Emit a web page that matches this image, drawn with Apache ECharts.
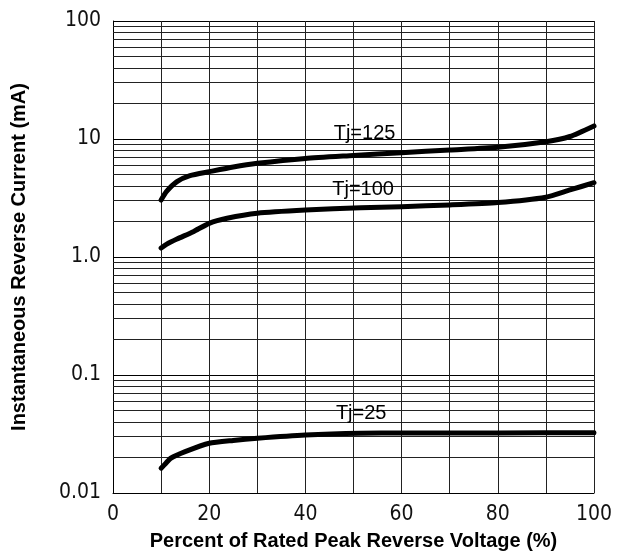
<!DOCTYPE html>
<html>
<head>
<meta charset="utf-8">
<script src="https://cdn.jsdelivr.net/npm/echarts@6/dist/echarts.min.js"></script>
<style>
  html, body { margin: 0; padding: 0; background: #fff; }
  #chart { width: 619px; height: 557px; }
</style>
</head>
<body>
<div id="chart"></div>
<script>
// Reverse leakage current vs. percent of rated peak reverse voltage
const voltage125 = [10, 11.1, 13.3, 16, 20, 25, 30, 40, 50, 60, 70, 80, 90, 95, 100];
const current125 = [3.04, 3.58, 4.35, 4.89, 5.28, 5.79, 6.22, 6.85, 7.25, 7.66, 8.07, 8.51, 9.49, 10.5, 12.9];

const voltage100 = [10, 11.1, 13.3, 16.7, 20, 23.7, 30, 40, 51.5, 60, 70, 80, 90, 95, 100];
const current100 = [1.19, 1.28, 1.42, 1.64, 1.93, 2.13, 2.35, 2.50, 2.62, 2.67, 2.76, 2.89, 3.21, 3.70, 4.26];

const voltage25 = [10, 11, 12, 15, 20, 25, 30, 40, 51.5, 60, 80, 100];
const current25 = [0.0162, 0.0179, 0.0197, 0.0224, 0.0264, 0.0279, 0.0291, 0.031, 0.0321, 0.0322, 0.0323, 0.0324];

const seriesNames = ['Tj=125', 'Tj=100', 'Tj=25'];
// caption anchor for each curve [voltage %, current mA]
const captionAt = [[52.3, 11.2], [52, 3.70], [51.6, 0.0468]];

const yTickLabels = ['0.01', '0.1', '1.0', '10', '100'];
const decades = [0.01, 0.1, 1, 10];
const minorSteps = [2, 3, 4, 5, 6, 7, 8, 9];

const pairs = (xs, ys) => xs.map((x, i) => [x, ys[i]]);

// minor log grid lines at 2..9 of every decade
const minorLines = [];
decades.forEach(d => minorSteps.forEach(m => minorLines.push({ yAxis: +(d * m).toPrecision(3) })));

const tickFont = "'Liberation Sans Narrow', 'Arial Narrow', 'DejaVu Sans Condensed', sans-serif";
const textFont = "'Liberation Sans', Arial, sans-serif";
const gridColor = '#222';

function curve(name, data, caption, extra) {
  return Object.assign({
    name: name,
    type: 'line',
    data: data,
    smooth: 0.2,
    showSymbol: false,
    z: 5,
    lineStyle: { color: '#000', width: 5, cap: 'round', join: 'round' },
    markPoint: {
      symbol: 'circle',
      symbolSize: 0,
      silent: true,
      animation: false,
      data: [{ coord: caption, value: name }],
      label: {
        show: true,
        position: 'inside',
        formatter: name,
        color: '#000',
        fontFamily: textFont,
        fontSize: 20
      }
    }
  }, extra || {});
}

const chart = echarts.init(document.getElementById('chart'), null, { renderer: 'canvas' });

chart.setOption({
  animation: false,
  backgroundColor: '#fff',
  grid: { left: 113, right: 25, top: 21, bottom: 64, containLabel: false },
  xAxis: {
    type: 'value',
    min: 0,
    max: 100,
    interval: 20,
    name: 'Percent of Rated Peak Reverse Voltage (%)',
    nameLocation: 'middle',
    nameGap: 38,
    nameTextStyle: { fontFamily: textFont, fontWeight: 'bold', fontSize: 20, color: '#000' },
    axisLine: { show: true, lineStyle: { color: '#000', width: 1 } },
    axisTick: { show: false },
    axisLabel: { color: '#111', fontFamily: tickFont, fontSize: 21, margin: 11 },
    splitLine: { show: true, lineStyle: { color: gridColor, width: 1 } },
    minorTick: { show: false, splitNumber: 2 },
    minorSplitLine: { show: true, lineStyle: { color: gridColor, width: 1 } }
  },
  yAxis: {
    type: 'log',
    logBase: 10,
    min: 0.01,
    max: 100,
    name: 'Instantaneous Reverse Current (mA)',
    nameLocation: 'middle',
    nameGap: 84,
    nameTextStyle: { fontFamily: textFont, fontWeight: 'bold', fontSize: 20, color: '#000' },
    axisLine: { show: true, lineStyle: { color: '#000', width: 1 } },
    axisTick: { show: false },
    axisLabel: {
      color: '#111',
      fontFamily: tickFont,
      fontSize: 21,
      margin: 12,
      formatter: v => yTickLabels[Math.round(Math.log10(v)) + 2]
    },
    splitLine: { show: true, lineStyle: { color: '#000', width: 1 } }
  },
  series: [
    curve(seriesNames[0], pairs(voltage125, current125), captionAt[0], {
      markLine: {
        silent: true,
        animation: false,
        symbol: 'none',
        z: 1,
        label: { show: false },
        lineStyle: { color: gridColor, width: 1, type: 'solid' },
        emphasis: { disabled: true },
        data: minorLines
      }
    }),
    curve(seriesNames[1], pairs(voltage100, current100), captionAt[1]),
    curve(seriesNames[2], pairs(voltage25, current25), captionAt[2])
  ]
});
</script>
</body>
</html>
